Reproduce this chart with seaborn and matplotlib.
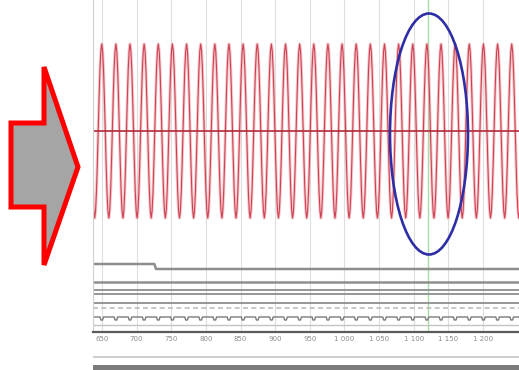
import numpy as np
import pandas as pd
import matplotlib
matplotlib.use("Agg")
import matplotlib.pyplot as plt
from matplotlib.patches import Polygon, Ellipse, Rectangle
import seaborn as sns

# ---- data ----
tick_values = [650, 700, 750, 800, 850, 900, 950, 1000, 1050, 1100, 1150, 1200]
tick_labels = ["650", "700", "750", "800", "850", "900", "950",
               "1 000", "1 050", "1 100", "1 150", "1 200"]
x_range = (637, 1252)

# one cycle of the red signal (starting at a peak), sampled evenly
cycle_shape = [1.0, 0.92, 0.71, 0.38, 0.0, -0.38, -0.71, -0.92,
               -1.0, -0.92, -0.71, -0.38, 0.0, 0.38, 0.71, 0.92]
first_peak = 649.6
signal_period = 20.41
n_cycles_before = 1
n_cycles_after = 30
cursor_x = 1120.6

# digital traces (level offsets, in rows below the analog pane)
bus_switch_x = 726.5
bus_top_before, bus_top_after, bus_bottom = 7, 12, 25
static_levels = [33, 37, 46]
dashed_level = 51
pulse_level, pulse_dip, pulse_width = 60, 63, 5.0
base_level = 68

# ---- build tables ----
n_total = n_cycles_before + n_cycles_after
sig_vals = list(cycle_shape) * n_total + [cycle_shape[0]]
step = signal_period / len(cycle_shape)
start = first_peak - n_cycles_before * signal_period
sig_x = [start + i * step for i in range(len(sig_vals))]
signal = pd.DataFrame({"t": sig_x, "v": sig_vals})

peaks = [first_peak + k * signal_period for k in range(-n_cycles_before, n_cycles_after)]
px, py = [x_range[0]], [pulse_level]
for p in peaks:
    px += [p - pulse_width / 2, p - pulse_width / 4, p + pulse_width / 4, p + pulse_width / 2]
    py += [pulse_level, pulse_dip, pulse_dip, pulse_level]
px.append(x_range[1]); py.append(pulse_level)
pulses = pd.DataFrame({"t": px, "v": py})

busA = pd.DataFrame({"t": [x_range[0], bus_switch_x - 1, bus_switch_x + 1.5, x_range[1]],
                     "v": [bus_top_before, bus_top_before, bus_top_after, bus_top_after]})
busB = pd.DataFrame({"t": [x_range[0], x_range[1]], "v": [bus_bottom, bus_bottom]})

# ---- figure ----
sns.set_theme(style="white")
W, H = 519, 370
fig = plt.figure(figsize=(W / 100, H / 100), dpi=100)
fig.patch.set_facecolor("white")

def frac(left, top, right, bottom):
    return [left / W, 1 - bottom / H, (right - left) / W, (bottom - top) / H]

ax1 = fig.add_axes(frac(93, 0, 519, 257))
ax2 = fig.add_axes(frac(93, 257, 519, 332))

for ax in (ax1, ax2):
    ax.set_xlim(*x_range)
    ax.set_xticks(tick_values)
    ax.grid(True, axis="x", color="#dedede", lw=0.8)
    ax.grid(False, axis="y")
    ax.set_yticks([])
    for s in ("top", "right"):
        ax.spines[s].set_visible(False)
    ax.spines["left"].set_color("#d0d0d0")
    ax.spines["left"].set_linewidth(0.8)
    ax.axvline(cursor_x, color="#a8dca8", lw=1.0, zorder=1)
    ax.set_xlabel(""); ax.set_ylabel("")

# analog pane
ax1.set_ylim(-1.448, 1.506)
ax1.spines["bottom"].set_visible(False)
ax1.tick_params(axis="x", length=0, labelbottom=False)
sns.lineplot(data=signal, x="t", y="v", ax=ax1, color="#f0a0a8", lw=2.2,
             alpha=0.6, sort=False, estimator=None)
sns.lineplot(data=signal, x="t", y="v", ax=ax1, color="#c83446", lw=0.8,
             alpha=0.9, sort=False, estimator=None)
ax1.axhline(0, color="#b02a3a", lw=1.2)
ax1.set_xlabel(""); ax1.set_ylabel("")

# digital pane
ax2.set_ylim(75, 0)
gray = "#8e8e8e"
sns.lineplot(data=busA, x="t", y="v", ax=ax2, color=gray, lw=1.8, sort=False, estimator=None)
sns.lineplot(data=busB, x="t", y="v", ax=ax2, color=gray, lw=1.8, sort=False, estimator=None)
for lv in static_levels:
    ax2.axhline(lv, color=gray, lw=1.3)
ax2.axhline(dashed_level, color="#bcbcbc", lw=1.2, ls=(0, (3, 2)))
sns.lineplot(data=pulses, x="t", y="v", ax=ax2, color="#7a7a7a", lw=1.0, sort=False, estimator=None)
ax2.axhline(base_level, color="#c4c4c4", lw=1.0)
ax2.spines["bottom"].set_color("#5a5a5a")
ax2.spines["bottom"].set_linewidth(1.6)
ax2.set_xticklabels(tick_labels)
ax2.tick_params(axis="x", length=0, pad=3, labelsize=5, labelcolor="#8a8a8a")
ax2.set_xlabel(""); ax2.set_ylabel("")

# bottom decorations
fig.add_artist(Rectangle((93 / W, 1 - 358 / H), 426 / W, 2 / H, transform=fig.transFigure,
                         facecolor="#cfcfcf", edgecolor="none"))
fig.add_artist(Rectangle((93 / W, 0), 426 / W, 5.5 / H, transform=fig.transFigure,
                         facecolor="#7c7c7c", edgecolor="none"))

# arrow
arrow_px = [(11, 123), (44, 123), (44, 67), (78, 167), (44, 265), (44, 207), (11, 207)]
fig.add_artist(Polygon([(x / W, 1 - y / H) for x, y in arrow_px], closed=True,
                       transform=fig.transFigure, facecolor="#a5a5a5",
                       edgecolor="#ff0000", lw=3.6, joinstyle="miter"))

# highlight ellipse
fig.add_artist(Ellipse((429 / W, 1 - 134 / H), 78 / W, 241 / H, transform=fig.transFigure,
                       facecolor="none", edgecolor="#2e2ea6", lw=1.9))

fig.savefig("out.png", dpi=100)
